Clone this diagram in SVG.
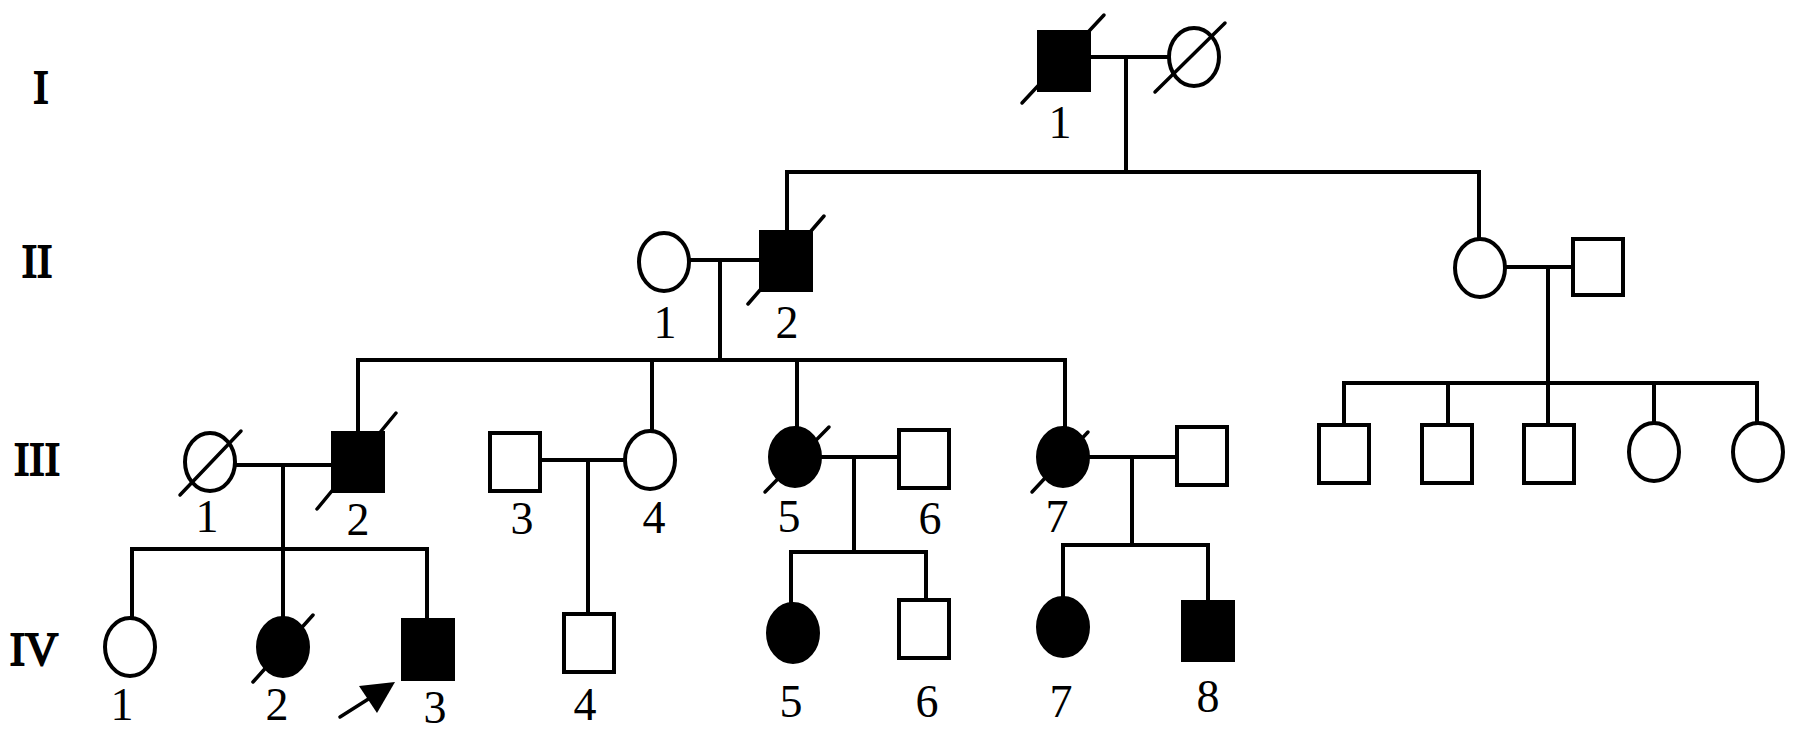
<svg xmlns="http://www.w3.org/2000/svg" width="1795" height="738" viewBox="0 0 1795 738">
<style>
.ln{stroke:#000;stroke-width:4;fill:none;stroke-linecap:square}
.sl{stroke:#000;stroke-width:3.5;fill:none;stroke-linecap:round}
.o{fill:#fff;stroke:#000;stroke-width:4}
.f{fill:#000;stroke:#000;stroke-width:4}
.num{font-family:"Liberation Serif","Times New Roman",serif;font-size:46px;text-anchor:middle;fill:#000}
.gen{font-family:"Liberation Serif","Times New Roman",serif;font-size:46px;text-anchor:middle;fill:#000;stroke:#000;stroke-width:1.8}
</style>
<rect width="1795" height="738" fill="#fff"/>
<g id="generation-labels">
<text class="gen" x="41" y="103">I</text>
<text class="gen" x="37" y="277">II</text>
<text class="gen" x="37" y="475">III</text>
<text class="gen" x="34" y="665">IV</text>
</g>
<g id="connectors">
<line class="ln" x1="1092" y1="57" x2="1167" y2="57"/>
<line class="ln" x1="1126" y1="57" x2="1126" y2="172"/>
<line class="ln" x1="787" y1="172" x2="1479" y2="172"/>
<line class="ln" x1="787" y1="172" x2="787" y2="232"/>
<line class="ln" x1="1479" y1="172" x2="1479" y2="239"/>
<line class="ln" x1="690" y1="260" x2="761" y2="260"/>
<line class="ln" x1="720" y1="260" x2="720" y2="360"/>
<line class="ln" x1="1505" y1="267" x2="1573" y2="267"/>
<line class="ln" x1="1548" y1="267" x2="1548" y2="383"/>
<line class="ln" x1="358" y1="360" x2="1065" y2="360"/>
<line class="ln" x1="358" y1="360" x2="358" y2="433"/>
<line class="ln" x1="652" y1="360" x2="652" y2="431"/>
<line class="ln" x1="797" y1="360" x2="797" y2="428"/>
<line class="ln" x1="1065" y1="360" x2="1065" y2="428"/>
<line class="ln" x1="1344" y1="383" x2="1757" y2="383"/>
<line class="ln" x1="1344" y1="383" x2="1344" y2="425"/>
<line class="ln" x1="1448" y1="383" x2="1448" y2="425"/>
<line class="ln" x1="1548" y1="383" x2="1548" y2="425"/>
<line class="ln" x1="1654" y1="383" x2="1654" y2="423"/>
<line class="ln" x1="1757" y1="383" x2="1757" y2="423"/>
<line class="ln" x1="235" y1="465" x2="333" y2="465"/>
<line class="ln" x1="283" y1="465" x2="283" y2="549"/>
<line class="ln" x1="540" y1="460" x2="625" y2="460"/>
<line class="ln" x1="588" y1="460" x2="588" y2="614"/>
<line class="ln" x1="820" y1="457" x2="899" y2="457"/>
<line class="ln" x1="854" y1="457" x2="854" y2="552"/>
<line class="ln" x1="1088" y1="457" x2="1177" y2="457"/>
<line class="ln" x1="1132" y1="457" x2="1132" y2="545"/>
<line class="ln" x1="132" y1="549" x2="427" y2="549"/>
<line class="ln" x1="132" y1="549" x2="132" y2="618"/>
<line class="ln" x1="283" y1="549" x2="283" y2="618"/>
<line class="ln" x1="427" y1="549" x2="427" y2="620"/>
<line class="ln" x1="791" y1="552" x2="926" y2="552"/>
<line class="ln" x1="791" y1="552" x2="791" y2="604"/>
<line class="ln" x1="926" y1="552" x2="926" y2="600"/>
<line class="ln" x1="1063" y1="545" x2="1208" y2="545"/>
<line class="ln" x1="1063" y1="545" x2="1063" y2="598"/>
<line class="ln" x1="1208" y1="545" x2="1208" y2="602"/>
</g>
<g id="I-1"><rect class="f" x="1039" y="32" width="50" height="58"/><line class="sl" x1="1022" y1="103" x2="1104" y2="15"/><text class="num" x="1060" y="138">1</text></g>
<g id="I-2"><ellipse class="o" cx="1194" cy="57" rx="25" ry="29"/><line class="sl" x1="1155" y1="92" x2="1225" y2="23"/></g>
<g id="II-1"><ellipse class="o" cx="664" cy="262" rx="25" ry="29"/><text class="num" x="665" y="338">1</text></g>
<g id="II-2"><rect class="f" x="761" y="232" width="50" height="58"/><line class="sl" x1="748" y1="304" x2="824" y2="216"/><text class="num" x="787" y="338">2</text></g>
<g id="II-3"><ellipse class="o" cx="1480" cy="268" rx="25" ry="29"/></g>
<g id="II-4"><rect class="o" x="1573" y="239" width="50" height="56"/></g>
<g id="III-1"><ellipse class="o" cx="210" cy="462" rx="25" ry="29"/><line class="sl" x1="180" y1="495" x2="241" y2="431"/><text class="num" x="207" y="532">1</text></g>
<g id="III-2"><rect class="f" x="333" y="433" width="50" height="58"/><line class="sl" x1="317" y1="509" x2="396" y2="413"/><text class="num" x="358" y="535">2</text></g>
<g id="III-3"><rect class="o" x="490" y="433" width="50" height="58"/><text class="num" x="522" y="534">3</text></g>
<g id="III-4"><ellipse class="o" cx="650" cy="460" rx="25" ry="29"/><text class="num" x="654" y="533">4</text></g>
<g id="III-5"><ellipse class="f" cx="795" cy="457" rx="25" ry="29"/><line class="sl" x1="765" y1="492" x2="829" y2="427"/><text class="num" x="789" y="532">5</text></g>
<g id="III-6"><rect class="o" x="899" y="430" width="50" height="58"/><text class="num" x="930" y="534">6</text></g>
<g id="III-7"><ellipse class="f" cx="1063" cy="457" rx="25" ry="29"/><line class="sl" x1="1032" y1="492" x2="1088" y2="432"/><text class="num" x="1057" y="532">7</text></g>
<g id="III-8"><rect class="o" x="1177" y="427" width="50" height="58"/></g>
<g id="III-9"><rect class="o" x="1319" y="425" width="50" height="58"/></g>
<g id="III-10"><rect class="o" x="1422" y="425" width="50" height="58"/></g>
<g id="III-11"><rect class="o" x="1524" y="425" width="50" height="58"/></g>
<g id="III-12"><ellipse class="o" cx="1654" cy="452" rx="25" ry="29"/></g>
<g id="III-13"><ellipse class="o" cx="1758" cy="452" rx="25" ry="29"/></g>
<g id="IV-1"><ellipse class="o" cx="130" cy="647" rx="25" ry="29"/><text class="num" x="122" y="720">1</text></g>
<g id="IV-2"><ellipse class="f" cx="283" cy="647" rx="25" ry="29"/><line class="sl" x1="253" y1="682" x2="313" y2="615"/><text class="num" x="277" y="720">2</text></g>
<g id="IV-3"><rect class="f" x="403" y="620" width="50" height="59"/><line class="sl" x1="340" y1="717" x2="370" y2="698"/><polygon points="395,682 377,713 359,686" fill="#000"/><text class="num" x="435" y="723">3</text></g>
<g id="IV-4"><rect class="o" x="564" y="614" width="50" height="58"/><text class="num" x="585" y="720">4</text></g>
<g id="IV-5"><ellipse class="f" cx="793" cy="633" rx="25" ry="29"/><text class="num" x="791" y="717">5</text></g>
<g id="IV-6"><rect class="o" x="899" y="600" width="50" height="58"/><text class="num" x="927" y="717">6</text></g>
<g id="IV-7"><ellipse class="f" cx="1063" cy="627" rx="25" ry="29"/><text class="num" x="1061" y="717">7</text></g>
<g id="IV-8"><rect class="f" x="1183" y="602" width="50" height="58"/><text class="num" x="1208" y="712">8</text></g>
</svg>
